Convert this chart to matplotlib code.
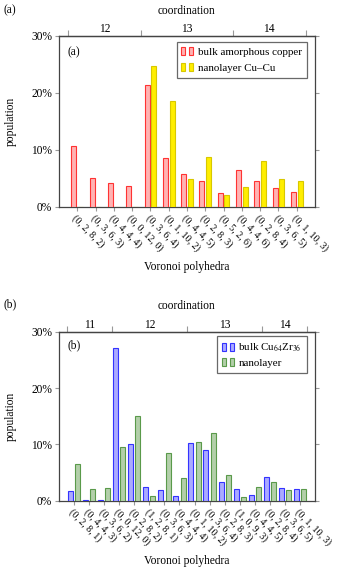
import matplotlib
matplotlib.use("Agg")
import matplotlib.pyplot as plt
import numpy as np
from matplotlib.patches import Rectangle, Patch
from matplotlib.legend_handler import HandlerBase

plt.rcParams['font.family'] = ['Liberation Serif', 'DejaVu Serif']
plt.rcParams['mathtext.fontset'] = 'stix'

# ---------------- data ----------------
cats_a = ["(0, 2, 8, 2)", "(0, 3, 6, 3)", "(0, 4, 4, 4)", "(0, 0, 12, 0)",
          "(0, 3, 6, 4)", "(0, 1, 10, 2)", "(0, 4, 4, 5)", "(0, 2, 8, 3)", "(0, 5, 2, 6)",
          "(0, 4, 4, 6)", "(0, 2, 8, 4)", "(0, 3, 6, 5)", "(0, 1, 10, 3)"]
bulk_cu = [10.6, 5.0, 4.1, 3.7, 21.4, 8.6, 5.7, 4.6, 2.45, 6.4, 4.6, 3.3, 2.5]
nano_cu = [0, 0, 0, 0, 24.8, 18.5, 4.8, 8.65, 2.0, 3.5, 7.95, 4.8, 4.6]
coord_a = ["12", "13", "14"]
coord_a_bounds = [-0.5, 3.5, 8.5, 12.5]

cats_b = ["(0, 2, 8, 1)", "(0, 4, 4, 3)", "(0, 3, 6, 2)",
          "(0, 0, 12, 0)", "(0, 2, 8, 2)", "(1, 2, 8, 1)", "(0, 3, 6, 3)", "(0, 4, 4, 4)",
          "(0, 1, 10, 2)", "(0, 3, 6, 4)", "(0, 2, 8, 3)", "(1, 0, 9, 3)", "(0, 4, 4, 5)",
          "(0, 2, 8, 4)", "(0, 3, 6, 5)", "(0, 1, 10, 3)"]
bulk_cuzr = [1.7, 0.2, 0.2, 27.1, 10.1, 2.5, 1.9, 0.8, 10.2, 9.0, 3.4, 2.0, 1.0, 4.2, 2.25, 2.0]
nano_cuzr = [6.6, 2.1, 2.2, 9.6, 15.0, 0.8, 8.4, 4.1, 10.4, 12.0, 4.6, 0.65, 2.4, 3.3, 1.9, 2.1]
coord_b = ["11", "12", "13", "14"]
coord_b_bounds = [-0.5, 2.5, 7.5, 12.5, 15.5]

yticks = [0, 10, 20, 30]
ytick_labels = ["0%", "10%", "20%", "30%"]


class TwoBar(HandlerBase):
    def create_artists(self, legend, orig_handle, xdescent, ydescent,
                       width, height, fontsize, trans):
        fc = orig_handle.get_facecolor()
        ec = orig_handle.get_edgecolor()
        w = width * 0.32
        h = height * 1.0
        arts = []
        for x0 in (0.0, width * 0.62):
            r = Rectangle((-xdescent + x0, -ydescent), w, h, facecolor=fc,
                          edgecolor=ec, lw=0.8, transform=trans)
            arts.append(r)
        return arts


GREY = '#999999'
SPINE = '#444444'
FS = 8.3


def make_panel(ax, cats, s1, s2, c1, c2, labels, coords, bounds, width, off, inlabel,
               leg_anchor, tag, lspace):
    n = len(cats)
    x = np.arange(n)
    ax.bar(x - off, s1, width, facecolor=c1[0], edgecolor=c1[1], lw=0.8, zorder=3)
    ax.bar(x + off, s2, width, facecolor=c2[0], edgecolor=c2[1], lw=0.8, zorder=3)
    ax.set_xlim(-1, n)
    ax.set_ylim(0, 30)
    ax.set_yticks(yticks)
    ax.set_yticklabels(ytick_labels, fontsize=FS)
    ax.set_xticks(x)
    ax.set_xticklabels(cats, rotation=-45, ha='left', va='top', rotation_mode='anchor',
                       fontsize=7.2)
    ax.tick_params(axis='x', direction='out', length=3, color=GREY, pad=2)
    ax.tick_params(axis='y', direction='out', length=3, color=GREY, right=True, pad=2)
    for s in ax.spines.values():
        s.set_color(SPINE)
        s.set_linewidth(0.9)
    ax.set_ylabel('population', fontsize=FS, labelpad=10)
    ax.set_xlabel('Voronoi polyhedra', fontsize=FS, labelpad=5)

    sec = ax.secondary_xaxis('top')
    sec.set_xticks(bounds)
    sec.set_xticklabels([''] * len(bounds))
    centers = [(bounds[i] + bounds[i + 1]) / 2 for i in range(len(bounds) - 1)]
    sec.set_xticks(centers, labels=coords, minor=True)
    sec.tick_params(axis='x', which='major', direction='out', length=4, color=GREY)
    sec.tick_params(axis='x', which='minor', length=0, labelsize=FS, pad=0.5)
    sec.spines['top'].set_color(SPINE)
    sec.spines['top'].set_linewidth(0.9)
    sec.set_xlabel('coordination', fontsize=FS, labelpad=7)

    ax.text(0.033, inlabel, tag, transform=ax.transAxes,
            fontsize=FS, ha='left', va='center')

    h1 = Patch(facecolor=c1[0], edgecolor=c1[1])
    h2 = Patch(facecolor=c2[0], edgecolor=c2[1])
    leg = ax.legend([h1, h2], labels, loc='upper right', bbox_to_anchor=leg_anchor,
                    handler_map={h1: TwoBar(), h2: TwoBar()}, fontsize=FS * 0.95,
                    frameon=True, fancybox=False, borderaxespad=0, handlelength=1.15,
                    handleheight=0.75, handletextpad=0.35, labelspacing=lspace,
                    borderpad=0.45)
    leg.get_frame().set_edgecolor(SPINE)
    leg.get_frame().set_linewidth(0.9)


fig = plt.figure(figsize=(3.38, 5.70), dpi=100)
W, H = 338.0, 570.0
ax1 = fig.add_axes([59 / W, 1 - 206.7 / H, 256 / W, 170.7 / H])
ax2 = fig.add_axes([59 / W, 1 - 500.7 / H, 256 / W, 169 / H])

make_panel(ax1, cats_a, bulk_cu, nano_cu, ('#ffb3b3', '#ff3333'), ('#ffee00', '#d8c800'),
           ['bulk amorphous copper', 'nanolayer Cu–Cu'], coord_a, coord_a_bounds,
           0.27, 0.185, 0.905, (0.968, 0.965), '(a)', 0.55)
make_panel(ax2, cats_b, bulk_cuzr, nano_cuzr, ('#aaaaff', '#3333ff'), ('#b3cfaa', '#5a9a4a'),
           ['bulk Cu$_{64}$Zr$_{36}$', 'nanolayer'], coord_b, coord_b_bounds,
           0.33, 0.24, 0.917, (0.968, 0.972), '(b)', 0.4)

fig.text(3 / W, 1 - 10 / H, '(a)', fontsize=FS, ha='left', va='center')
fig.text(3 / W, 1 - 304 / H, '(b)', fontsize=FS, ha='left', va='center')

fig.savefig('out.png', dpi=100)
